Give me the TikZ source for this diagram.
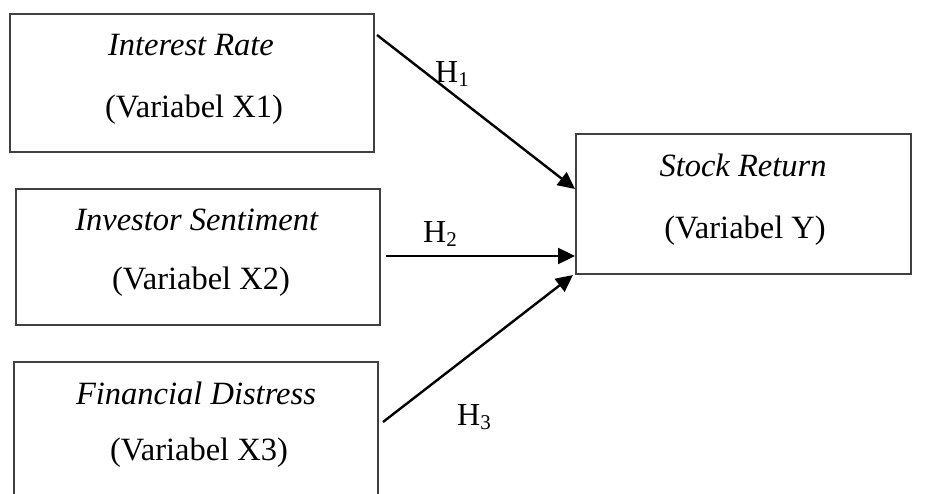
\documentclass[tikz,border=0pt]{standalone}
\usepackage{fontspec}
\setmainfont{Liberation Serif}
\usetikzlibrary{arrows.meta}
\tikzset{
  varbox/.style={draw=black!75, line width=1.3pt, inner sep=0pt},
  lbl/.style={inner sep=0pt, font=\fontsize{32.5}{38}\selectfont},
  hyp/.style={inner sep=0pt, font=\fontsize{32}{38}\selectfont},
  conn/.style={line width=2.4pt, -{Triangle[length=17pt,width=16pt]}}
}
\newcommand{\hsub}[1]{H\raisebox{-0.28ex}{\fontsize{21}{21}\selectfont #1}}
\begin{document}
\begin{tikzpicture}[x=1pt,y=-1pt]
\useasboundingbox (0,0) rectangle (928,494);
% boxes
\draw[varbox] (10,14) rectangle (374,152);
\node[inner sep=0pt] (b1) at (192,83) {};
\draw[varbox] (16,189) rectangle (380,325);
\node[inner sep=0pt] (b2) at (198,257) {};
\draw[varbox] (378,500) -- (378,362) -- (14,362) -- (14,500);
\node[inner sep=0pt] (b3) at (196,430) {};
\draw[varbox] (576,134) rectangle (911,274);
\node[inner sep=0pt] (by) at (743,204) {};
% texts
\node[lbl] (t1a) at (191,45) {\textit{Interest Rate}};
\node[lbl] (t1b) at (194,110) {(Variabel X1)};
\node[lbl] (t2a) at (197,220) {\textit{Investor Sentiment}};
\node[lbl] (t2b) at (201,282) {(Variabel X2)};
\node[lbl] (t3a) at (196,393) {\textit{Financial Distress}};
\node[lbl] (t3b) at (199,453) {(Variabel X3)};
\node[lbl] (tya) at (743,165) {\textit{Stock Return}};
\node[lbl] (tyb) at (745,231) {(Variabel Y)};
% connector ends
\coordinate (s1) at (377,35);
\coordinate (e1) at (575,189);
\coordinate (s2) at (386,256);
\coordinate (e2) at (575,256);
\coordinate (s3) at (383,422);
\coordinate (e3) at (573,275);
\draw[conn] (s1) -- (e1);
\draw[conn] (s2) -- (e2);
\draw[conn] (s3) -- (e3);
% hypothesis labels
\node[hyp] (h1) at (452,74) {\hsub{1}};
\node[hyp] (h2) at (440,234) {\hsub{2}};
\node[hyp] (h3) at (474,417) {\hsub{3}};
\end{tikzpicture}
\end{document}
